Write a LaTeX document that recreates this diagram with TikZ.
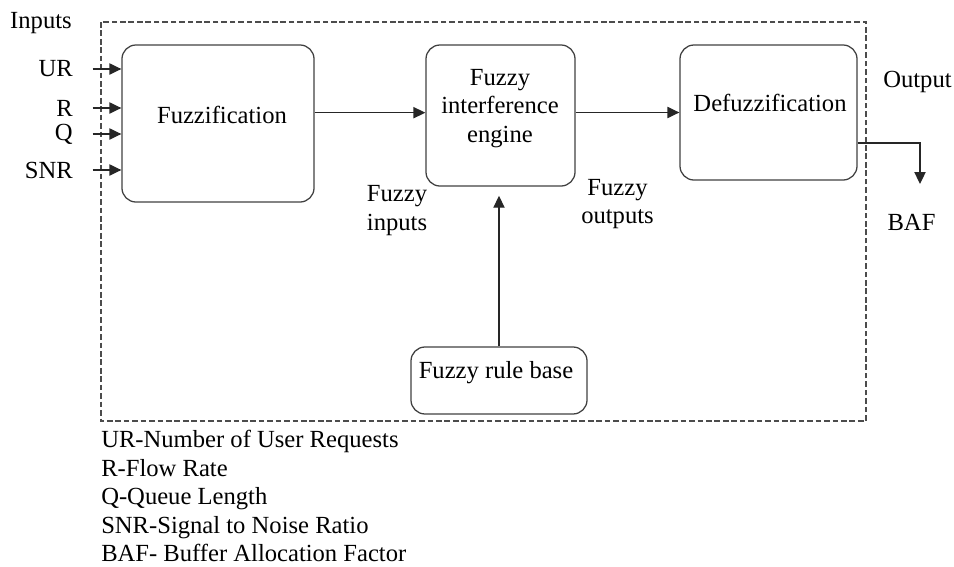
\documentclass[tikz,border=0pt]{standalone}
\usepackage{fontspec}
\setmainfont{Liberation Serif}
\usetikzlibrary{arrows.meta, positioning}

\begin{document}
\begin{tikzpicture}[
		x=0.025cm, y=-0.025cm,
		every node/.style={font=\fontsize{17.5}{20.3}\selectfont, align=center, inner sep=0pt},
		block/.style={draw=black!75, line width=0.9pt, rounded corners=10pt},
		arrow/.style={-{Triangle[length=8.5pt, width=8pt]}, line width=0.9pt, draw=black!85},
		frame/.style={draw=black!70, line width=0.8pt, dash pattern=on 4pt off 2pt}
		]
		\useasboundingbox (0,0) rectangle (954,566);
		
		% Dashed system boundary
		\draw[frame] (101,22) rectangle (866,421);
		
		% Blocks
		\node[block, minimum width=4.8cm, minimum height=3.925cm] (fuzz) at (218,123.5) {};
		\node[block, minimum width=3.725cm, minimum height=3.525cm] (fie) at (500.5,115.5) {};
		\node[block, minimum width=4.425cm, minimum height=3.375cm] (defuzz) at (768.5,112.5) {};
		\node[block, minimum width=4.4cm, minimum height=1.675cm] (rules) at (499,380.5) {};
		
		% Block texts
		\node (fuzztxt) at (222,115) {Fuzzification};
		\node (fietxt) at (500,108.5) {Fuzzy\\interference\\engine};
		\node (defuzztxt) at (770,103) {Defuzzification};
		\node (rulestxt) at (496,373) {Fuzzy rule base};
		
		% Inputs
		\node (inputs) at (41,23) {Inputs};
		\foreach \name/\txt/\y in {ur/UR/69, r/R/108, q/Q/134, snr/SNR/170}{
			\node[anchor=east] (\name) at (73,\y) {\txt};
			\draw[arrow] ([xshift=14pt]\name.east) -- (\name -| fuzz.west);
		}
		
		% Flow between blocks
		\draw[arrow] ([yshift=2pt]fie.west -| fuzz.east) -- ([yshift=2pt]fie.west);
		\draw[arrow] (fie.east |- defuzz.west) -- (defuzz.west);
		\draw[arrow, shorten >=6.5pt] (rules.north) -- (rules.north |- fie.south);
		
		\node (fzin) at (397,210.5) {Fuzzy\\inputs};
		\node (fzout) at (617.5,204) {Fuzzy\\outputs};
		
		% Output
		\node (output) at (917.5,82) {Output};
		\coordinate (outturn) at (920,143);
		\coordinate (outend) at (920,184);
		\draw[arrow] (outturn -| defuzz.east) -- (outturn) -- (outend);
		\node (baf) at (911.5,222) {BAF};
		
		% Legend
		\node[anchor=west, align=left] (legend) at (101,496) {UR-Number of User Requests\\R-Flow Rate\\Q-Queue Length\\SNR-Signal to Noise Ratio\\BAF- Buffer Allocation Factor};
		
	\end{tikzpicture}
\end{document}
